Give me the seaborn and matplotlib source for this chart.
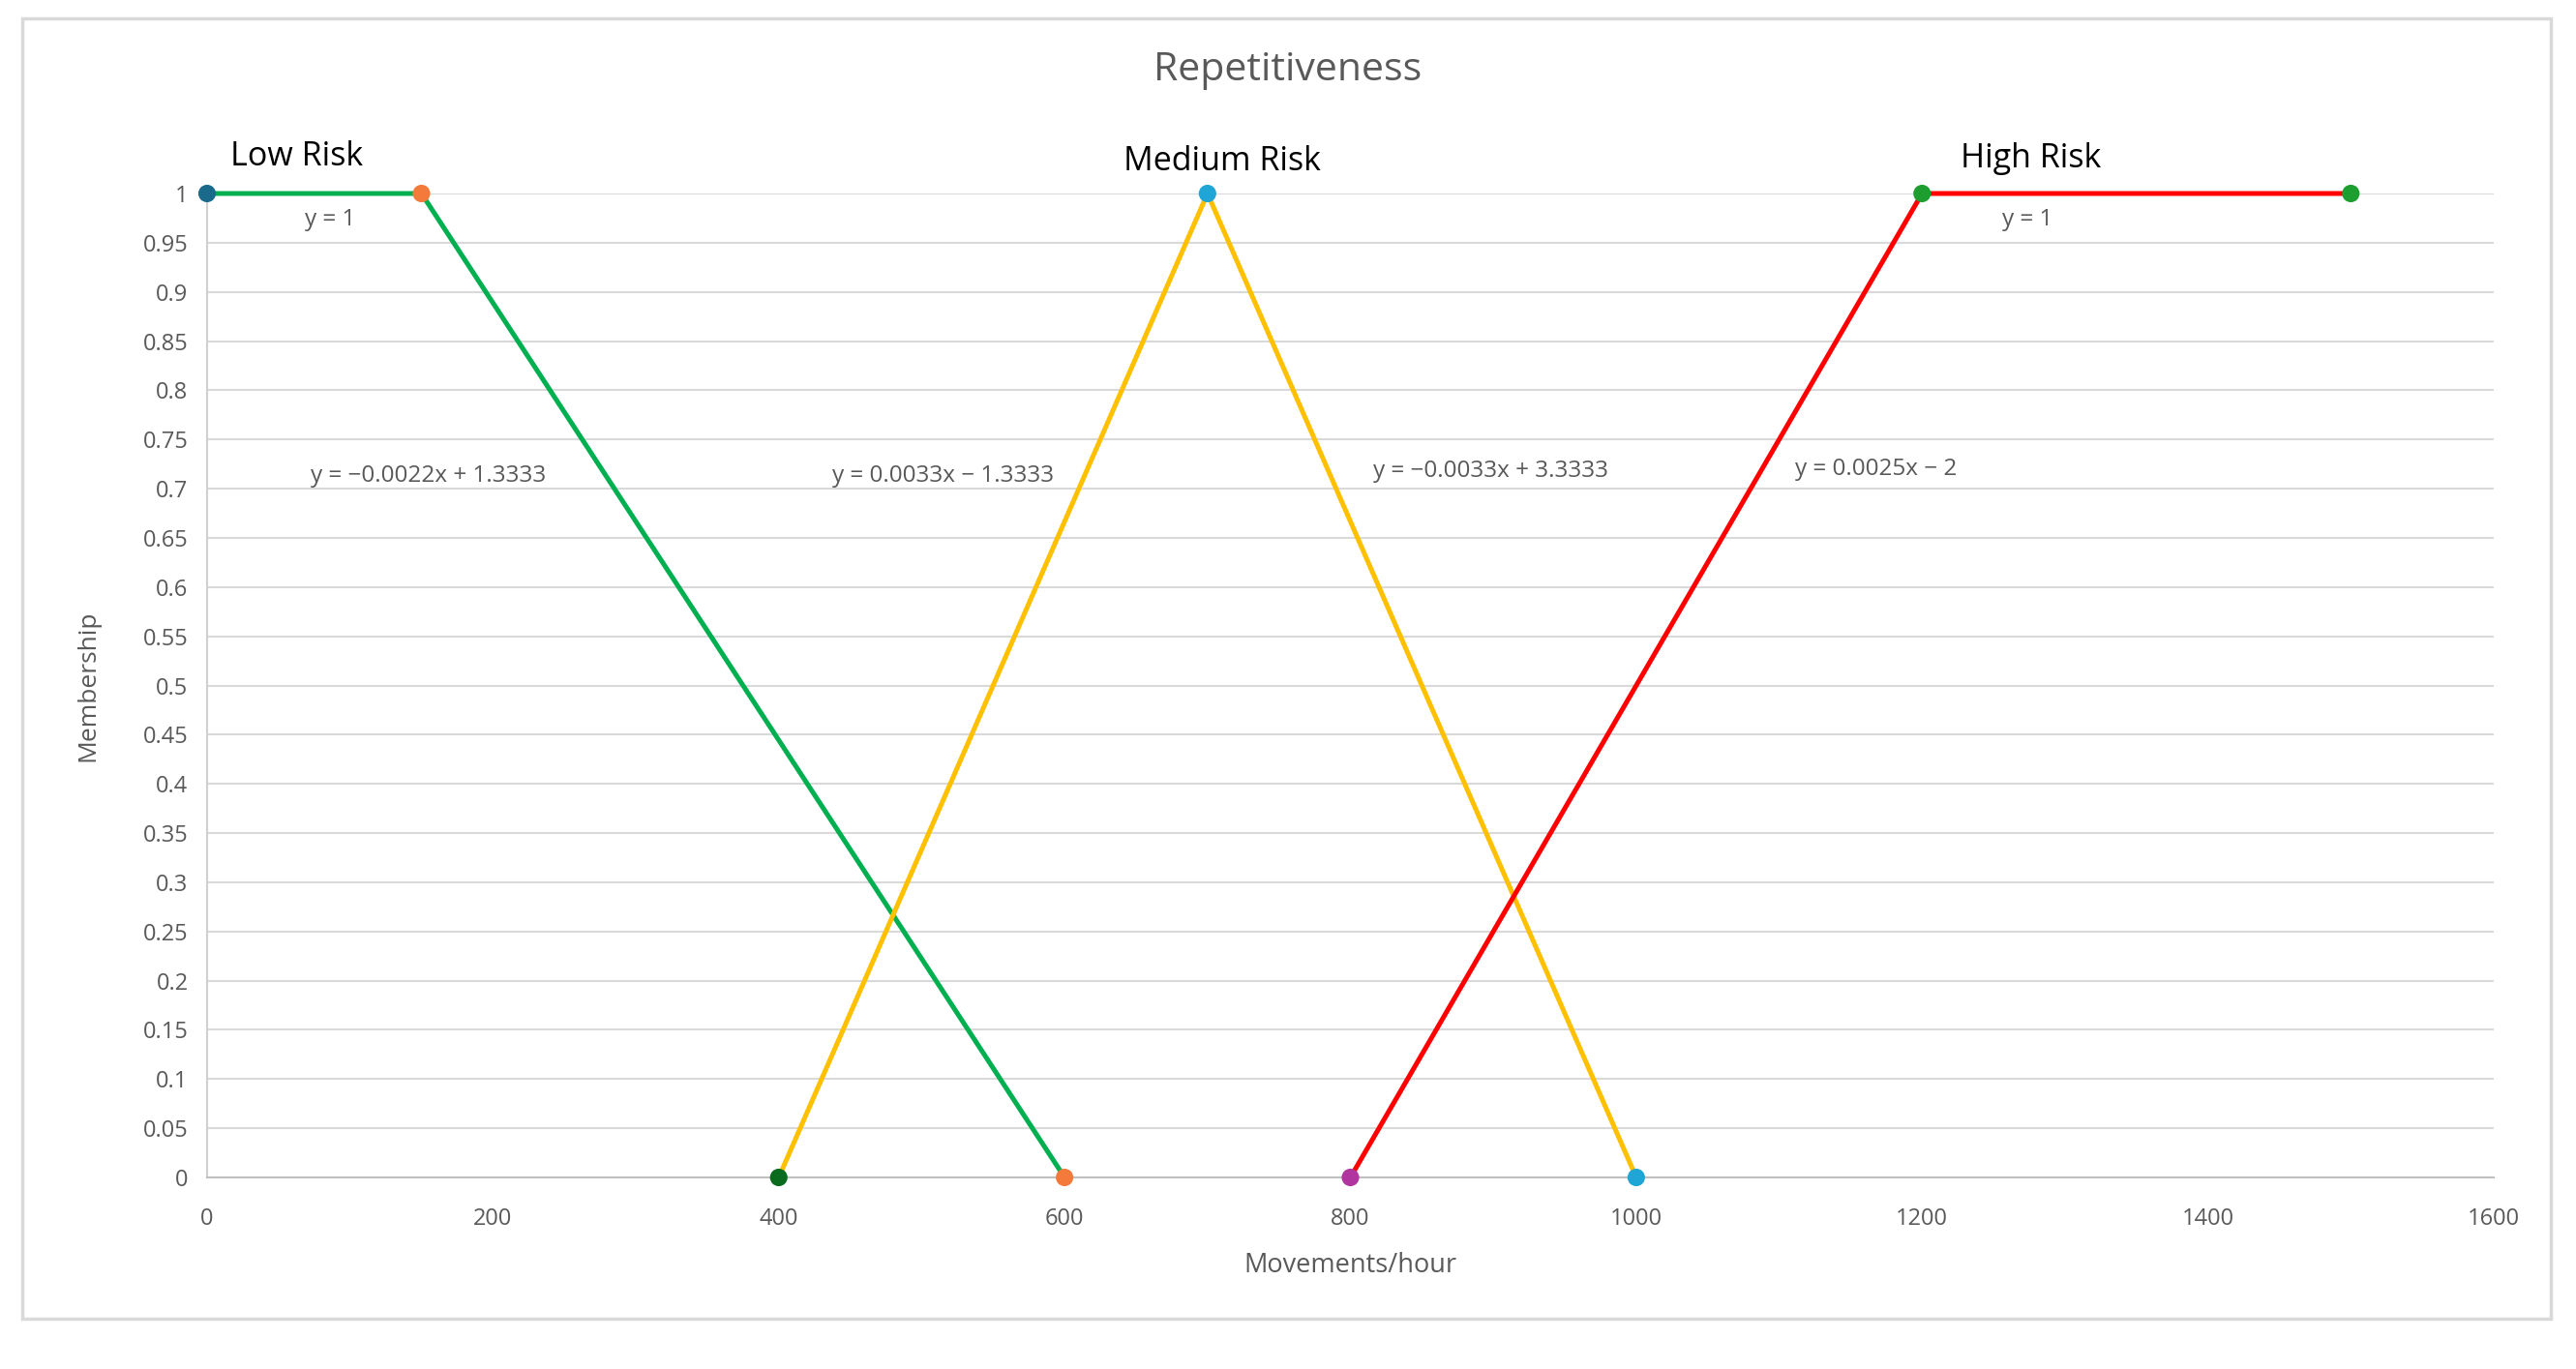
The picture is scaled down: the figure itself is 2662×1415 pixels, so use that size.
import numpy as np
import pandas as pd
import matplotlib
matplotlib.use('Agg')
import matplotlib.pyplot as plt
import seaborn as sns
from matplotlib.patches import Rectangle

# membership function corner points (movements/hour, membership)
low_x = [0, 150, 600]
low_y = [1, 1, 0]
med_x = [400, 700, 1000]
med_y = [0, 1, 0]
high_x = [800, 1200, 1500]
high_y = [0, 1, 1]

line_colors = {'Low Risk': '#00b050', 'Medium Risk': '#ffc000', 'High Risk': '#ff0000'}
marker_colors = {
    'Low Risk': ['#1a6a8c', '#f47a3c', '#f47a3c'],
    'Medium Risk': ['#0a6a1e', '#1fa5d6', '#1fa5d6'],
    'High Risk': ['#b0359f', '#1f9e30', '#1f9e30'],
}

# equation labels (text, x, y)
eq_text = ['y = 1', 'y = \u22120.0022x + 1.3333', 'y = 0.0033x \u2212 1.3333',
           'y = \u22120.0033x + 3.3333', 'y = 0.0025x \u2212 2', 'y = 1']
eq_x = [86, 155, 515, 898, 1168, 1274]
eq_y = [0.973, 0.713, 0.713, 0.718, 0.72, 0.973]

# set names (text, x, y)
set_names = ['Low Risk', 'Medium Risk', 'High Risk']
set_x = [63, 710, 1276]
set_y = [1.037, 1.032, 1.035]

df = pd.concat([
    pd.DataFrame({'x': low_x, 'y': low_y, 'set': 'Low Risk'}),
    pd.DataFrame({'x': med_x, 'y': med_y, 'set': 'Medium Risk'}),
    pd.DataFrame({'x': high_x, 'y': high_y, 'set': 'High Risk'}),
])

sns.set_style('white')
plt.rcParams['font.family'] = ['Open Sans', 'DejaVu Sans']
gray = '#595959'

fig = plt.figure(figsize=(26.62, 14.15), dpi=100)
ax = fig.add_axes([214 / 2662, 1 - 1217 / 1415, (2577 - 214) / 2662, (1217 - 200) / 1415])

sns.lineplot(data=df, x='x', y='y', hue='set', palette=line_colors, linewidth=3.6,
             sort=False, legend=False, ax=ax, zorder=3)
for ln in ax.lines:
    ln.set_clip_on(False)
for name, sub in df.groupby('set', sort=False):
    ax.scatter(sub['x'], sub['y'], c=marker_colors[name], s=170, zorder=4, clip_on=False,
               edgecolors='none')

for t, x, y in zip(eq_text, eq_x, eq_y):
    ax.text(x, y, t, ha='center', va='center', fontsize=17.5, color=gray, zorder=5)
for t, x, y in zip(set_names, set_x, set_y):
    ax.text(x, y, t, ha='center', va='center', fontsize=24.5, color='black')

ax.set_xlim(0, 1600)
ax.set_ylim(0, 1)
ax.set_xticks(np.arange(0, 1601, 200))
yt = np.round(np.arange(0, 1.0001, 0.05), 2)
ax.set_yticks(yt)
ax.set_yticklabels([('%g' % v) for v in yt])
ax.tick_params(axis='both', labelsize=17, labelcolor=gray, length=0, pad=14)
ax.tick_params(axis='x', pad=22)
ax.grid(axis='y', color='#d9d9d9', linewidth=1.5)
ax.set_axisbelow(True)
for s in ['top', 'right']:
    ax.spines[s].set_visible(False)
ax.spines['left'].set_color('#d0d0d0')
ax.spines['left'].set_linewidth(1.5)
ax.spines['bottom'].set_color('#bfbfbf')
ax.spines['bottom'].set_linewidth(1.5)

ax.set_xlabel('Movements/hour', fontsize=19.5, color=gray, labelpad=16)
ax.set_ylabel('Membership', fontsize=19, color=gray, labelpad=32)
fig.text(0.5, 1 - 73 / 1415, 'Repetitiveness', ha='center', va='center', fontsize=29.5, color=gray)

fig.patches.append(Rectangle((23 / 2662, 1 - 1363 / 1415), (2636 - 23) / 2662, (1363 - 19) / 1415,
                             transform=fig.transFigure, fill=False, edgecolor='#d9d9d9',
                             linewidth=2.5))

fig.savefig('out.png', dpi=100)
